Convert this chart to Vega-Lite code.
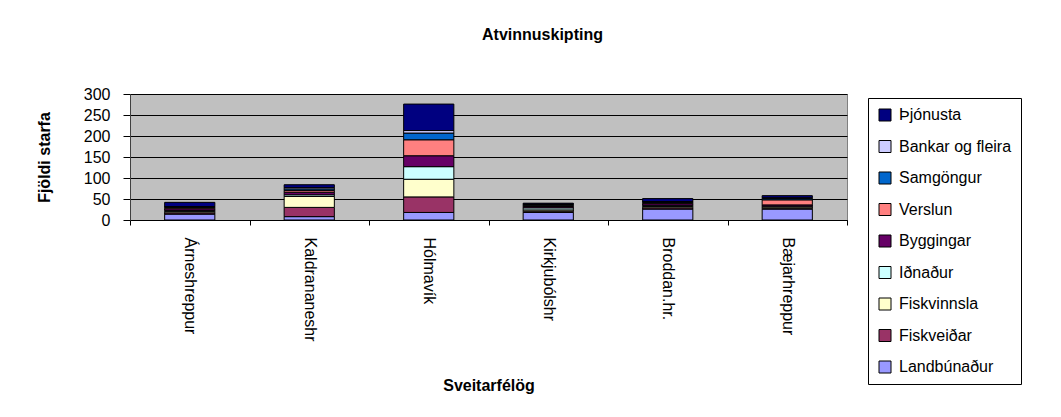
{
  "$schema": "https://vega.github.io/schema/vega-lite/v6.json",
  "autosize": {"type": "none"},
  "padding": {"left": 130, "top": 94, "right": 214, "bottom": 197},
  "width": 717,
  "height": 126,
  "background": "white",
  "title": {
    "text": "Atvinnuskipting",
    "font": "Liberation Sans",
    "fontSize": 16,
    "fontWeight": "bold",
    "color": "black",
    "anchor": "middle",
    "dx": 54,
    "offset": 30,
    "baseline": "alphabetic"
  },
  "config": {
    "view": {"fill": "#C0C0C0", "stroke": "#808080", "strokeWidth": 1},
    "font": "Liberation Sans"
  },
  "data": {
    "values": [
      {"sveit": "Árneshreppur", "grein": "Landbúnaður", "fjoldi": 14},
      {"sveit": "Árneshreppur", "grein": "Fiskveiðar", "fjoldi": 3},
      {"sveit": "Árneshreppur", "grein": "Fiskvinnsla", "fjoldi": 3},
      {"sveit": "Árneshreppur", "grein": "Iðnaður", "fjoldi": 3},
      {"sveit": "Árneshreppur", "grein": "Byggingar", "fjoldi": 4},
      {"sveit": "Árneshreppur", "grein": "Verslun", "fjoldi": 3},
      {"sveit": "Árneshreppur", "grein": "Samgöngur", "fjoldi": 2},
      {"sveit": "Árneshreppur", "grein": "Bankar og fleira", "fjoldi": 0},
      {"sveit": "Árneshreppur", "grein": "Þjónusta", "fjoldi": 10},
      {"sveit": "Kaldrananeshr", "grein": "Landbúnaður", "fjoldi": 8},
      {"sveit": "Kaldrananeshr", "grein": "Fiskveiðar", "fjoldi": 22},
      {"sveit": "Kaldrananeshr", "grein": "Fiskvinnsla", "fjoldi": 26},
      {"sveit": "Kaldrananeshr", "grein": "Iðnaður", "fjoldi": 4},
      {"sveit": "Kaldrananeshr", "grein": "Byggingar", "fjoldi": 6},
      {"sveit": "Kaldrananeshr", "grein": "Verslun", "fjoldi": 4},
      {"sveit": "Kaldrananeshr", "grein": "Samgöngur", "fjoldi": 4},
      {"sveit": "Kaldrananeshr", "grein": "Bankar og fleira", "fjoldi": 3},
      {"sveit": "Kaldrananeshr", "grein": "Þjónusta", "fjoldi": 7},
      {"sveit": "Hólmavík", "grein": "Landbúnaður", "fjoldi": 18},
      {"sveit": "Hólmavík", "grein": "Fiskveiðar", "fjoldi": 37},
      {"sveit": "Hólmavík", "grein": "Fiskvinnsla", "fjoldi": 42},
      {"sveit": "Hólmavík", "grein": "Iðnaður", "fjoldi": 30},
      {"sveit": "Hólmavík", "grein": "Byggingar", "fjoldi": 26},
      {"sveit": "Hólmavík", "grein": "Verslun", "fjoldi": 38},
      {"sveit": "Hólmavík", "grein": "Samgöngur", "fjoldi": 16},
      {"sveit": "Hólmavík", "grein": "Bankar og fleira", "fjoldi": 6},
      {"sveit": "Hólmavík", "grein": "Þjónusta", "fjoldi": 63},
      {"sveit": "Kirkjubólshr", "grein": "Landbúnaður", "fjoldi": 18},
      {"sveit": "Kirkjubólshr", "grein": "Fiskveiðar", "fjoldi": 3},
      {"sveit": "Kirkjubólshr", "grein": "Fiskvinnsla", "fjoldi": 3},
      {"sveit": "Kirkjubólshr", "grein": "Iðnaður", "fjoldi": 5},
      {"sveit": "Kirkjubólshr", "grein": "Byggingar", "fjoldi": 3},
      {"sveit": "Kirkjubólshr", "grein": "Verslun", "fjoldi": 3},
      {"sveit": "Kirkjubólshr", "grein": "Samgöngur", "fjoldi": 2},
      {"sveit": "Kirkjubólshr", "grein": "Bankar og fleira", "fjoldi": 1},
      {"sveit": "Kirkjubólshr", "grein": "Þjónusta", "fjoldi": 2},
      {"sveit": "Broddan.hr.", "grein": "Landbúnaður", "fjoldi": 26},
      {"sveit": "Broddan.hr.", "grein": "Fiskveiðar", "fjoldi": 3},
      {"sveit": "Broddan.hr.", "grein": "Fiskvinnsla", "fjoldi": 3},
      {"sveit": "Broddan.hr.", "grein": "Iðnaður", "fjoldi": 3},
      {"sveit": "Broddan.hr.", "grein": "Byggingar", "fjoldi": 4},
      {"sveit": "Broddan.hr.", "grein": "Verslun", "fjoldi": 3},
      {"sveit": "Broddan.hr.", "grein": "Samgöngur", "fjoldi": 2},
      {"sveit": "Broddan.hr.", "grein": "Bankar og fleira", "fjoldi": 0},
      {"sveit": "Broddan.hr.", "grein": "Þjónusta", "fjoldi": 7},
      {"sveit": "Bæjarhreppur", "grein": "Landbúnaður", "fjoldi": 26},
      {"sveit": "Bæjarhreppur", "grein": "Fiskveiðar", "fjoldi": 2},
      {"sveit": "Bæjarhreppur", "grein": "Fiskvinnsla", "fjoldi": 3},
      {"sveit": "Bæjarhreppur", "grein": "Iðnaður", "fjoldi": 2},
      {"sveit": "Bæjarhreppur", "grein": "Byggingar", "fjoldi": 3},
      {"sveit": "Bæjarhreppur", "grein": "Verslun", "fjoldi": 12},
      {"sveit": "Bæjarhreppur", "grein": "Samgöngur", "fjoldi": 3},
      {"sveit": "Bæjarhreppur", "grein": "Bankar og fleira", "fjoldi": 2},
      {"sveit": "Bæjarhreppur", "grein": "Þjónusta", "fjoldi": 5}
    ]
  },
  "transform": [
    {"calculate": "indexof(['Landbúnaður','Fiskveiðar','Fiskvinnsla','Iðnaður','Byggingar','Verslun','Samgöngur','Bankar og fleira','Þjónusta'], datum.grein)", "as": "rod"}
  ],
  "mark": {"type": "bar", "width": {"band": 0.42}, "stroke": "black", "strokeWidth": 1},
  "encoding": {
    "x": {
      "field": "sveit",
      "type": "nominal",
      "sort": ["Árneshreppur", "Kaldrananeshr", "Hólmavík", "Kirkjubólshr", "Broddan.hr.", "Bæjarhreppur"],
      "scale": {"paddingInner": 0, "paddingOuter": 0},
      "axis": {
        "title": "Sveitarfélög",
        "titleFont": "Liberation Sans",
        "titleFontSize": 16,
        "titleFontWeight": "bold",
        "titleColor": "black",
        "titleY": 165,
        "titleBaseline": "middle",
        "labelAngle": 90,
        "labelAlign": "left",
        "labelBaseline": "middle",
        "labelFontSize": 16,
        "labelColor": "black",
        "labelPadding": 12,
        "labelLimit": 200,
        "tickBand": "extent",
        "tickSize": 5,
        "tickColor": "black",
        "domainColor": "black",
        "grid": false
      }
    },
    "y": {
      "field": "fjoldi",
      "type": "quantitative",
      "stack": "zero",
      "scale": {"domain": [0, 300], "nice": false},
      "axis": {
        "title": "Fjöldi starfa",
        "titleFont": "Liberation Sans",
        "titleFontSize": 16,
        "titleFontWeight": "bold",
        "titleColor": "black",
        "titleX": -86,
        "titleY": 63,
        "titleAngle": -90,
        "titleAlign": "center",
        "titleBaseline": "middle",
        "values": [0, 50, 100, 150, 200, 250, 300],
        "labelFontSize": 16,
        "labelColor": "black",
        "labelPadding": 13,
        "tickSize": 7,
        "tickColor": "black",
        "domainColor": "#404040",
        "grid": true,
        "gridColor": "black",
        "gridWidth": 1,
        "gridOpacity": 1
      }
    },
    "color": {
      "field": "grein",
      "type": "nominal",
      "scale": {
        "domain": ["Þjónusta", "Bankar og fleira", "Samgöngur", "Verslun", "Byggingar", "Iðnaður", "Fiskvinnsla", "Fiskveiðar", "Landbúnaður"],
        "range": ["#000080", "#CCCCFF", "#0066CC", "#FF8080", "#660066", "#CCFFFF", "#FFFFCC", "#993366", "#9999FF"]
      },
      "legend": {
        "title": null,
        "orient": "none",
        "legendX": 738,
        "legendY": 4,
        "strokeColor": "black",
        "fillColor": "white",
        "padding": 9,
        "symbolType": "square",
        "symbolSize": 144,
        "symbolStrokeColor": "black",
        "symbolStrokeWidth": 1,
        "symbolOpacity": 1,
        "labelFont": "Liberation Sans",
        "labelFontSize": 16,
        "labelColor": "black",
        "labelOffset": 6,
        "labelLimit": 300,
        "rowPadding": 15.5
      }
    },
    "order": {"field": "rod", "type": "quantitative", "sort": "ascending"}
  }
}
